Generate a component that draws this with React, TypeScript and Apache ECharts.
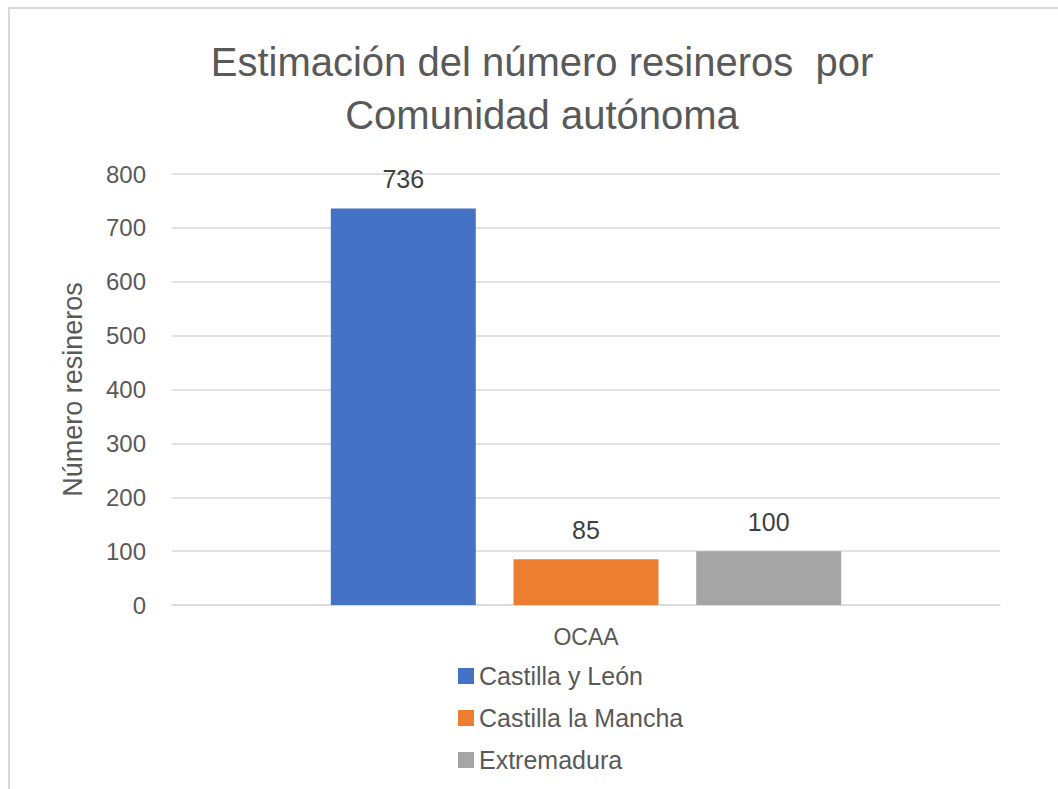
import React, { useEffect, useRef } from "react";
import * as echarts from "echarts";

const categories = ["OCAA"];
const seriesNames = ["Castilla y León", "Castilla la Mancha", "Extremadura"];
const seriesValues = [736, 85, 100];
const seriesColors = ["#4472C4", "#ED7D31", "#A5A5A5"];
const yTicks = { min: 0, max: 800, interval: 100 };

export default function App() {
  const ref = useRef<HTMLDivElement>(null);
  useEffect(() => {
    if (!ref.current) return;
    const chart = echarts.init(ref.current, undefined, { renderer: "svg" });
    const font = "Liberation Sans";
    chart.setOption({
      animation: false,
      backgroundColor: "#ffffff",
      textStyle: { fontFamily: font },
      graphic: [
        {
          type: "rect",
          shape: { x: 9, y: 8, width: 1100, height: 900 },
          style: { fill: "none", stroke: "#D9D9D9", lineWidth: 2 },
          z: -1,
        },
      ],
      title: {
        text: "Estimación del número resineros  por\nComunidad autónoma",
        left: 537,
        textAlign: "center",
        top: 30,
        textStyle: {
          fontFamily: font,
          fontSize: 40,
          fontWeight: "normal",
          color: "#595959",
          lineHeight: 53,
        },
      },
      legend: {
        orient: "vertical",
        left: 453,
        top: 657,
        itemWidth: 16,
        itemHeight: 16,
        itemGap: 14,
        icon: "rect",
        textStyle: { fontFamily: font, fontSize: 25, color: "#595959", lineHeight: 28 },
        data: seriesNames,
      },
      grid: { left: 172, right: 58, top: 174, bottom: 184, containLabel: false },
      xAxis: {
        type: "category",
        data: categories,
        axisLine: { show: true, lineStyle: { color: "#D9D9D9", width: 1.5 } },
        axisTick: { show: false },
        axisLabel: { fontFamily: font, fontSize: 23, color: "#595959", margin: 20 },
      },
      yAxis: {
        type: "value",
        min: yTicks.min,
        max: yTicks.max,
        interval: yTicks.interval,
        name: "Número resineros",
        nameLocation: "middle",
        nameGap: 86,
        nameRotate: 90,
        nameTextStyle: { fontFamily: font, fontSize: 27, color: "#595959" },
        axisLine: { show: false },
        axisTick: { show: false },
        axisLabel: { fontFamily: font, fontSize: 24, color: "#595959", margin: 26 },
        splitLine: { lineStyle: { color: "#D9D9D9", width: 1.5 } },
      },
      series: seriesNames.map((name, i) => ({
        name,
        type: "bar",
        data: [seriesValues[i]],
        barWidth: 145,
        barGap: "26%",
        itemStyle: { color: seriesColors[i] },
        label: {
          show: true,
          position: "top",
          distance: 17,
          fontFamily: font,
          fontSize: 25,
          color: "#404040",
        },
      })),
    });
    return () => chart.dispose();
  }, []);
  return (
    <div
      ref={ref}
      style={{ position: "absolute", left: 0, top: 0, width: 1058, height: 789 }}
    />
  );
}
